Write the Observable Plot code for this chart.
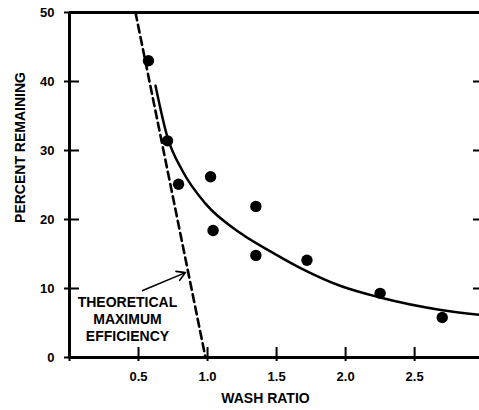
<!DOCTYPE html>
<html><head><meta charset="utf-8">
<script src="https://cdn.jsdelivr.net/npm/d3@7"></script>
<script src="https://cdn.jsdelivr.net/npm/@observablehq/plot@0.6"></script>
<style>body{margin:0;background:#fff}</style>
</head><body><div id="chart"></div>
<script>
// Measured points
const washRatio = [0.572, 0.71, 0.79, 1.022, 1.04, 1.35, 1.35, 1.72, 2.25, 2.70];
const percentRemaining = [43.0, 31.4, 25.1, 26.2, 18.4, 21.9, 14.8, 14.1, 9.3, 5.8];
// Fitted curve
const fitX = [0.623, 0.71, 0.817, 0.985, 1.24, 1.48, 1.67, 1.96, 2.25, 2.69, 2.97];
const fitY = [39.4, 31.9, 27.1, 22.3, 18.0, 15.1, 13.0, 10.4, 8.7, 6.9, 6.2];
// Theoretical maximum efficiency line
const theoX = [0.478, 0.985];
const theoY = [50, 0];
// Ticks
const xTicks = [0.5, 1.0, 1.5, 2.0, 2.5];
const yTicks = [0, 10, 20, 30, 40, 50];
const yRightTicks = [10, 20, 30, 40];
// Annotation
const annotationText = ["THEORETICAL", "MAXIMUM", "EFFICIENCY"];
const annotationX = [0.42];
const annotationY = [5.65];
const arrowX1 = [0.53], arrowY1 = [9.7], arrowX2 = [0.84], arrowY2 = [12.3];

const points = washRatio.map((x, i) => ({x, y: percentRemaining[i]}));
const fit = fitX.map((x, i) => ({x, y: fitY[i]}));
const theo = theoX.map((x, i) => ({x, y: theoY[i]}));
const arrows = arrowX1.map((x1, i) => ({x1, y1: arrowY1[i], x2: arrowX2[i], y2: arrowY2[i]}));
const notes = annotationX.map((x, i) => ({x, y: annotationY[i], t: annotationText.join("\n")}));

const font = "'Liberation Sans', Arial, Helvetica, sans-serif";
const chart = Plot.plot({
  width: 479, height: 410,
  marginLeft: 69, marginRight: 0, marginTop: 12, marginBottom: 53,
  x: {domain: [0, 2.97]},
  y: {domain: [0, 50]},
  style: {fontFamily: font, fontWeight: "bold", fontSize: "13px", color: "#000", background: "#fff", overflow: "visible"},
  marks: [
    // left axis ticks (crossing the axis) and labels
    Plot.axisY(yTicks, {anchor: "left", tickSize: 15, dx: 10, strokeWidth: 2, tickFormat: () => "", label: null}),
    Plot.axisY(yTicks, {anchor: "left", tickSize: 0, tickPadding: 15, fontSize: 13, fontWeight: "bold", label: null}),
    // right side inward ticks
    Plot.axisY(yRightTicks, {anchor: "right", tickSize: 7, dx: -7, strokeWidth: 2, tickFormat: () => "", label: null}),
    // bottom axis ticks and labels
    Plot.axisX([0, ...xTicks], {anchor: "bottom", tickSize: 14, dy: -10, strokeWidth: 2, tickFormat: () => "", label: null}),
    Plot.axisX(xTicks, {anchor: "bottom", tickSize: 0, tickPadding: 14, fontSize: 13, fontWeight: "bold", tickFormat: d => d.toFixed(1), label: null}),
    // frame lines
    Plot.ruleX([0], {strokeWidth: 3}),
    Plot.ruleY([0, 50], {strokeWidth: 3}),
    // theoretical line
    Plot.line(theo, {x: "x", y: "y", stroke: "#000", strokeWidth: 2.6, strokeDasharray: "8,4.5"}),
    // fitted curve
    Plot.line(fit, {x: "x", y: "y", stroke: "#000", strokeWidth: 2.5, curve: "monotone-x"}),
    // points
    Plot.dot(points, {x: "x", y: "y", r: 5.7, fill: "#000", stroke: "none"}),
    // annotation
    Plot.arrow(arrows, {x1: "x1", y1: "y1", x2: "x2", y2: "y2", stroke: "#000", strokeWidth: 1.6, headLength: 9, bend: 0}),
    Plot.text(notes, {x: "x", y: "y", text: "t", fontSize: 14, fontWeight: "bold", lineHeight: 1.21, fill: "#000"}),
    // axis titles
    Plot.text(["PERCENT REMAINING"], {frameAnchor: "top-left", dx: -49, dy: 135, rotate: -90, textAnchor: "middle", lineAnchor: "middle", fontSize: 14, fontWeight: "bold", fill: "#000"}),
    Plot.text(["WASH RATIO"], {frameAnchor: "bottom-left", dx: 196, dy: 41, textAnchor: "middle", lineAnchor: "middle", fontSize: 14, fontWeight: "bold", fill: "#000"})
  ]
});
document.getElementById("chart").append(chart);
</script>
</body></html>
